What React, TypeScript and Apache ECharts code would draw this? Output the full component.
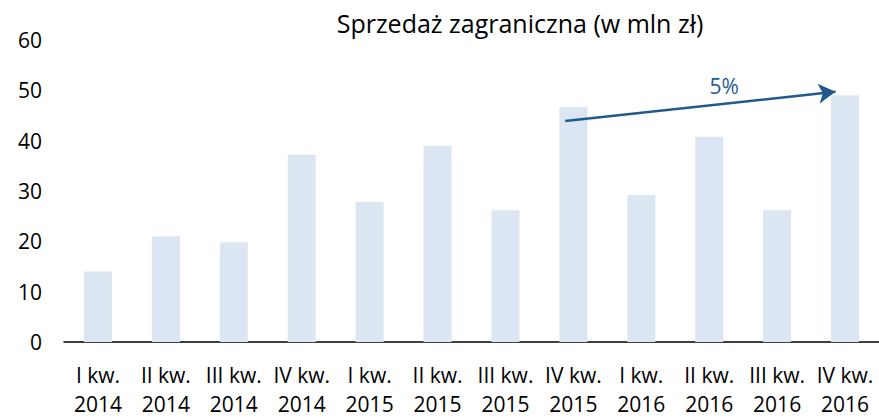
import React, { useEffect, useRef } from "react";
import * as echarts from "echarts";

const categories = [
  "I kw.\n2014", "II kw.\n2014", "III kw.\n2014", "IV kw.\n2014",
  "I kw.\n2015", "II kw.\n2015", "III kw.\n2015", "IV kw.\n2015",
  "I kw.\n2016", "II kw.\n2016", "III kw.\n2016", "IV kw.\n2016",
];
const sales = [14, 21, 19.8, 37.2, 27.8, 39, 26.2, 46.7, 29.2, 40.8, 26.2, 49];
const yTicks = { min: 0, max: 60, interval: 10 };
const trendStart = [6.88, 43.9];
const trendEnd = [10.86, 49.7];
const trendLabel = "5%";
const trendLabelAt = [9.22, 50.9];
const title = "Sprzedaż zagraniczna (w mln zł)";

const FONT = "'Open Sans', sans-serif";

export default function App() {
  const ref = useRef<HTMLDivElement>(null);
  useEffect(() => {
    if (!ref.current) return;
    const chart = echarts.init(ref.current, null, { renderer: "svg" });
    chart.setOption({
      animation: false,
      title: {
        text: title,
        left: 515,
        top: 5,
        textAlign: "center",
        textStyle: { fontFamily: FONT, fontSize: 25, fontWeight: "normal", color: "#000" },
      },
      grid: { left: 64, right: -9, top: 40, bottom: 69, containLabel: false },
      xAxis: [
        {
          type: "category",
          data: categories,
          axisLine: { lineStyle: { color: "#000", width: 1.5 } },
          axisTick: { show: false },
          axisLabel: {
            fontFamily: FONT,
            fontSize: 21,
            color: "#000",
            lineHeight: 29,
            margin: 18,
            interval: 0,
          },
        },
        { type: "value", min: -0.5, max: 11.5, show: false },
      ],
      yAxis: {
        type: "value",
        min: yTicks.min,
        max: yTicks.max,
        interval: yTicks.interval,
        splitLine: { show: false },
        axisLine: { show: false },
        axisTick: { show: false },
        axisLabel: { fontFamily: FONT, fontSize: 21, color: "#000", margin: 22, align: "right" },
      },
      series: [
        {
          type: "bar",
          data: sales,
          barWidth: 28,
          itemStyle: { color: "#dce6f2" },
        },
        {
          type: "line",
          xAxisIndex: 1,
          data: [trendStart, trendEnd],
          showSymbol: false,
          silent: true,
          lineStyle: { opacity: 0 },
          markLine: {
            silent: true,
            symbol: ["none", "arrow"],
            symbolSize: [15, 17],
            lineStyle: { color: "#1f5a8f", width: 2.5, type: "solid" },
            label: { show: false },
            data: [[{ coord: trendStart }, { coord: trendEnd }]],
          },
          markPoint: {
            silent: true,
            symbol: "rect",
            symbolSize: 1,
            itemStyle: { color: "transparent" },
            label: {
              show: true,
              formatter: trendLabel,
              fontFamily: FONT,
              fontSize: 21,
              color: "#1f5a8f",
              position: "inside",
            },
            data: [{ coord: trendLabelAt }],
          },
        },
      ],
    });
    return () => chart.dispose();
  }, []);
  return (
    <div
      ref={ref}
      style={{ position: "fixed", left: 0, top: 0, width: 879, height: 418, background: "#fff" }}
    />
  );
}
